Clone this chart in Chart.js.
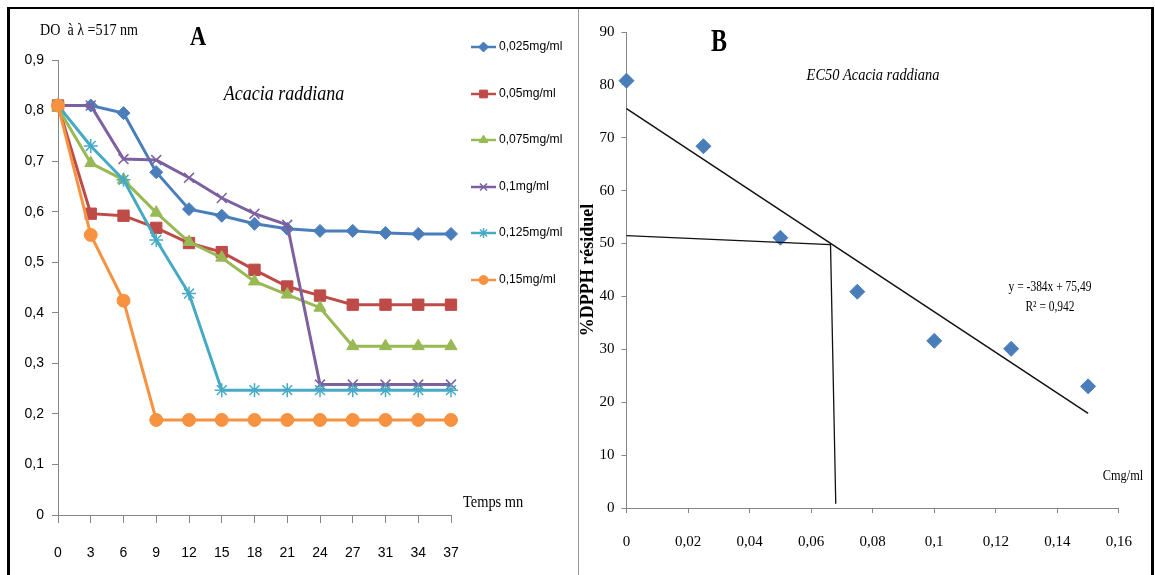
<!DOCTYPE html>
<html><head><meta charset="utf-8">
<script src="https://cdn.jsdelivr.net/npm/chart.js"></script>
<style>
html,body{margin:0;padding:0;background:#fff;width:1155px;height:575px;overflow:hidden;}
#wa{position:absolute;left:0;top:0;width:578px;height:575px;}
#wb{position:absolute;left:579px;top:0;width:573px;height:575px;}
#frame{position:absolute;left:7px;top:7px;width:1147px;height:580px;border-top:2px solid #000;border-left:3px solid #000;border-right:3px solid #000;box-sizing:border-box;pointer-events:none;}
#divider{position:absolute;left:578px;top:9px;width:1px;height:566px;background:#9a9a9a;}
</style></head><body>
<div id="wa"><canvas id="ca"></canvas></div>
<div id="wb"><canvas id="cb"></canvas></div>
<div id="frame"></div><div id="divider"></div>
<script>
// ---------- Panel A data ----------
const timeLabels = ['0','3','6','9','12','15','18','21','24','27','31','34','37'];
const seriesNames = ['0,025mg/ml','0,05mg/ml','0,075mg/ml','0,1mg/ml','0,125mg/ml','0,15mg/ml'];
const s0025 = [0.81,0.81,0.795,0.678,0.605,0.592,0.576,0.566,0.562,0.562,0.558,0.556,0.556];
const s005  = [0.81,0.596,0.592,0.568,0.538,0.52,0.485,0.452,0.434,0.416,0.416,0.416,0.416];
const s0075 = [0.805,0.696,0.663,0.598,0.54,0.509,0.462,0.436,0.41,0.334,0.334,0.334,0.334];
const s01   = [0.81,0.81,0.704,0.702,0.667,0.627,0.596,0.574,0.258,0.258,0.258,0.258,0.258];
const s0125 = [0.81,0.73,0.663,0.544,0.438,0.247,0.247,0.247,0.247,0.247,0.247,0.247,0.247];
const s015  = [0.81,0.554,0.424,0.188,0.188,0.188,0.188,0.188,0.188,0.188,0.188,0.188,0.188];
const yTicksA = [0,0.1,0.2,0.3,0.4,0.5,0.6,0.7,0.8,0.9];

// ---------- Panel B data ----------
const concX = [0,0.025,0.05,0.075,0.1,0.125,0.15];
const dpphY = [80.8,68.4,51.1,40.9,31.6,30.1,23.0];
const trendX = [0,0.15];
const trendY = [75.5,17.9];
const guideX = [0,0.0663,0.068];
const guideY = [51.5,49.8,0.8];
const xTicksB = [0,0.02,0.04,0.06,0.08,0.1,0.12,0.14,0.16];
const yTicksB = [0,10,20,30,40,50,60,70,80,90];

// ---------- styles ----------
const seriesA = [s0025,s005,s0075,s01,s0125,s015];
const colorsA = ['#4A7EBB','#BE4B48','#98B954','#7D60A0','#46AAC5','#F69240'];
const stylesA = ['rectRot','rect','triangle','crossRot','star','circle'];
const radiiA = [6.5,8,7,7,7,6.5];
const SANS = '"Liberation Sans", Arial, sans-serif';
const SERIF = '"Liberation Serif", "Times New Roman", serif';
const AXIS = '#868686';

function comma(v, d){ return v === 0 ? '0' : String(+v.toFixed(d)).replace('.', ','); }

function drawText(ctx, text, x, y, font, align, sx){
  ctx.save();
  ctx.font = font; ctx.fillStyle = '#000';
  ctx.textAlign = align; ctx.textBaseline = 'middle';
  ctx.translate(x, y); ctx.scale(sx, 1);
  ctx.fillText(text, 0, 0);
  ctx.restore();
}

function marker(ctx, style, r, color, x, y){
  ctx.save();
  ctx.fillStyle = color; ctx.strokeStyle = color;
  const bw = (style === 'crossRot' || style === 'star') ? 1.5 : 1;
  ctx.lineWidth = bw;
  if (Chart.helpers && Chart.helpers.drawPoint) {
    Chart.helpers.drawPoint(ctx, {pointStyle: style, radius: r, rotation: 0, borderWidth: bw}, x, y);
  } else {
    ctx.beginPath(); ctx.arc(x, y, r, 0, Math.PI*2); ctx.fill();
  }
  ctx.restore();
}

const textA = {
  id: 'textA',
  afterDraw(chart){
    const ctx = chart.ctx;
    drawText(ctx, 'DO  à λ =517 nm', 40, 31, '16px ' + SERIF, 'left', 0.88);
    drawText(ctx, 'A', 198, 38, 'bold 28px ' + SERIF, 'center', 0.8);
    drawText(ctx, 'Acacia raddiana', 284, 95, 'italic 20px ' + SERIF, 'center', 0.9);
    drawText(ctx, 'Temps mn', 463, 503, '16px ' + SERIF, 'left', 0.9);
    const ys = [47, 94, 140, 187, 233, 280];
    const lr = [5, 5.5, 5, 5, 5, 4.5];
    seriesNames.forEach((name, i) => {
      ctx.save();
      ctx.strokeStyle = colorsA[i]; ctx.lineWidth = 2.5;
      ctx.beginPath(); ctx.moveTo(471, ys[i]); ctx.lineTo(496, ys[i]); ctx.stroke();
      ctx.restore();
      marker(ctx, stylesA[i], lr[i], colorsA[i], 483.5, ys[i]);
      drawText(ctx, name, 499, ys[i], '12.5px ' + SANS, 'left', 0.97);
    });
  }
};

new Chart(document.getElementById('ca'), {
  type: 'line',
  data: {
    labels: timeLabels,
    datasets: seriesA.map((d, i) => ({
      label: seriesNames[i],
      data: d,
      borderColor: colorsA[i],
      backgroundColor: colorsA[i],
      pointBackgroundColor: colorsA[i],
      pointBorderColor: colorsA[i],
      borderWidth: 3,
      pointStyle: stylesA[i],
      pointRadius: radiiA[i],
      pointBorderWidth: (stylesA[i] === 'crossRot' || stylesA[i] === 'star') ? 1.5 : 1,
      tension: 0,
      clip: false,
      order: 5 - i
    }))
  },
  options: {
    responsive: true, maintainAspectRatio: false, animation: false,
    layout: {padding: {left: 0, top: 60, right: 127, bottom: 0}},
    plugins: {legend: {display: false}, tooltip: {enabled: false}},
    scales: {
      x: {
        type: 'category', offset: false,
        grid: {display: true, drawOnChartArea: false, drawTicks: true, tickLength: 8, color: AXIS},
        border: {display: true, color: AXIS, width: 1},
        ticks: {color: '#000', font: {family: SANS, size: 14}, padding: 22, autoSkip: false, maxRotation: 0},
        afterFit(s){ s.height = 60; }
      },
      y: {
        min: 0, max: 0.9,
        afterBuildTicks(s){ s.ticks = yTicksA.map(v => ({value: v})); },
        grid: {display: true, drawOnChartArea: false, drawTicks: true, tickLength: 6, color: AXIS},
        border: {display: true, color: AXIS, width: 1},
        ticks: {color: '#000', font: {family: SANS, size: 14}, padding: 8, callback: v => comma(v, 1)},
        afterFit(s){ s.width = 58; }
      }
    }
  },
  plugins: [textA]
});

const OX = 579;
const textB = {
  id: 'textB',
  afterDraw(chart){
    const ctx = chart.ctx;
    drawText(ctx, 'B', 719 - OX, 43, 'bold 32px ' + SERIF, 'center', 0.75);
    drawText(ctx, 'EC50 Acacia raddiana', 873 - OX, 76, 'italic 16px ' + SERIF, 'center', 0.9);
    drawText(ctx, 'y = -384x + 75,49', 1050 - OX, 287, '14px ' + SERIF, 'center', 0.82);
    drawText(ctx, 'R² = 0,942', 1050 - OX, 307, '14px ' + SERIF, 'center', 0.82);
    drawText(ctx, 'Cmg/ml', 1123 - OX, 476, '14px ' + SERIF, 'center', 0.88);
    ctx.save();
    ctx.translate(593 - OX, 270);
    ctx.rotate(-Math.PI / 2);
    ctx.font = 'bold 18px ' + SERIF; ctx.fillStyle = '#000';
    ctx.textAlign = 'center'; ctx.textBaseline = 'alphabetic';
    ctx.fillText('%DPPH résiduel', 0, 0);
    ctx.restore();
  }
};

new Chart(document.getElementById('cb'), {
  type: 'scatter',
  data: {
    datasets: [
      {label: 'guide', data: guideX.map((x, i) => ({x: x, y: guideY[i]})), showLine: true,
       borderColor: '#111', borderWidth: 1.3, pointRadius: 0, tension: 0, order: 0, clip: false},
      {label: 'trend', data: trendX.map((x, i) => ({x: x, y: trendY[i]})), showLine: true,
       borderColor: '#111', borderWidth: 1.5, pointRadius: 0, tension: 0, order: 1, clip: false},
      {label: 'DPPH', data: concX.map((x, i) => ({x: x, y: dpphY[i]})), showLine: false,
       pointStyle: 'rectRot', pointRadius: 7.5, pointBorderWidth: 1,
       backgroundColor: '#4A7EBB', borderColor: '#4A7EBB', order: 2, clip: false}
    ]
  },
  options: {
    responsive: true, maintainAspectRatio: false, animation: false,
    layout: {padding: {left: 0, top: 32, right: 28.5, bottom: 0}},
    plugins: {legend: {display: false}, tooltip: {enabled: false}},
    scales: {
      x: {
        type: 'linear', min: 0, max: 0.16,
        afterBuildTicks(s){ s.ticks = xTicksB.map(v => ({value: v})); },
        grid: {display: true, drawOnChartArea: false, drawTicks: true, tickLength: 5, color: AXIS},
        border: {display: true, color: AXIS, width: 1},
        ticks: {color: '#000', font: {family: SERIF, size: 15}, padding: 20, autoSkip: false, maxRotation: 0,
                callback: v => comma(v, 2)},
        afterFit(s){ s.height = 67; }
      },
      y: {
        type: 'linear', min: 0, max: 90,
        afterBuildTicks(s){ s.ticks = yTicksB.map(v => ({value: v})); },
        grid: {display: true, drawOnChartArea: false, drawTicks: true, tickLength: 5, color: AXIS},
        border: {display: true, color: AXIS, width: 1},
        ticks: {color: '#000', font: {family: SERIF, size: 15}, padding: 7, callback: v => String(v)},
        afterFit(s){ s.width = 47.5; }
      }
    }
  },
  plugins: [textB]
});
</script>
</body></html>
